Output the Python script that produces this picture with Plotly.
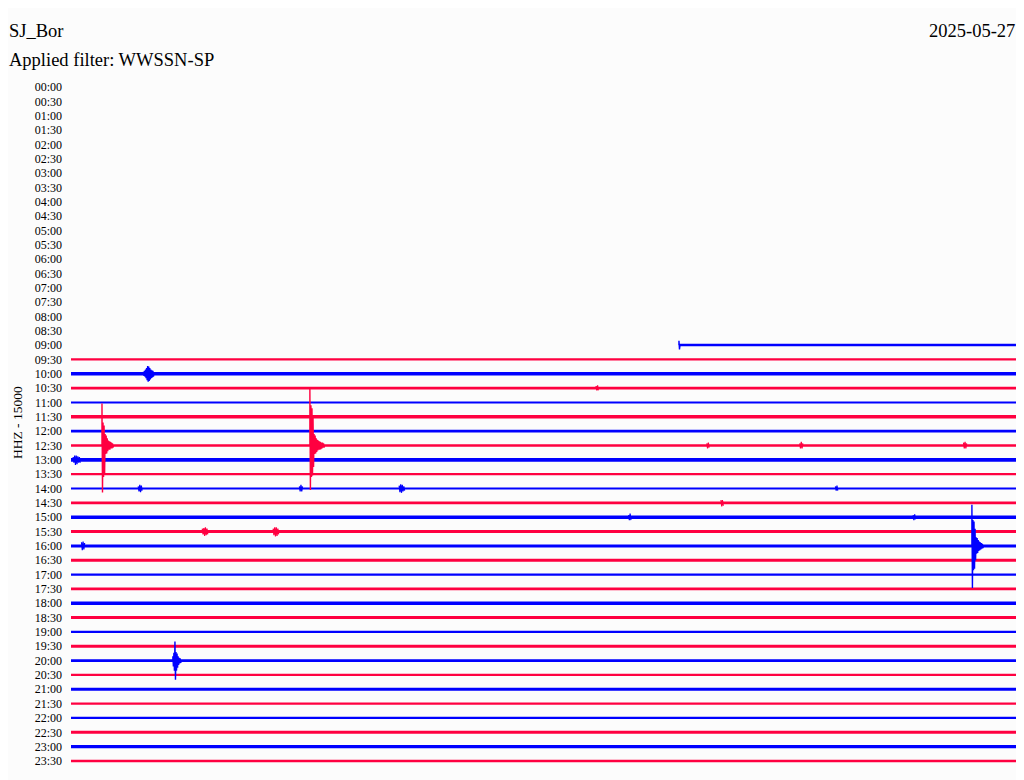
import plotly.graph_objects as go

# ---------------- data ----------------
ROW_LABELS = [f"{h:02d}:{m:02d}" for h in range(24) for m in (0, 30)]
STATION = "SJ_Bor"
DATE = "2025-05-27"
FILTER = "Applied filter: WWSSN-SP"
CHANNEL = "HHZ - 15000"

# seconds within each 30-min line where recorded data begins (rows with data only)
TRACE_ROWS = list(range(18, 48))
TRACE_START = [1158] + [0] * 29
TRACE_END = [1800] * 30

# events: row, start second, sample step (s), signed amplitudes (in line-spacing units, up positive)
EV_ROWS = [25, 25, 32, 40, 20, 18]
EV_START = [59, 455, 1716, 194, 138, 1158]
EV_STEP = [1, 1, 1, 1, 1, 1]
EV_VALUES = [
    [2.93, -3.28, 1.6, -2.2, 1.4, -2.0, 0.8, -0.6, 0.7, -0.55, 0.5, -0.4, 0.35, -0.3,
     0.3, -0.3, 0.25, -0.2, 0.2, -0.2, 0.15, -0.15],
    [3.97, -3.1, 2.8, -2.2, 2.6, -2.1, 2.0, -1.5, 0.8, -0.6, 0.7, -0.55, 0.5, -0.45,
     0.4, -0.35, 0.35, -0.3, 0.3, -0.3, 0.25, -0.25, 0.2, -0.2, 0.2, -0.15, 0.15, -0.15],
    [2.86, -2.93, 1.8, -1.7, 1.7, -1.6, 1.2, -1.0, 0.6, -0.55, 0.55, -0.5, 0.4, -0.35,
     0.3, -0.3, 0.25, -0.25, 0.2, -0.2, 0.15, -0.15],
    [0.3, -0.4, 0.55, -0.7, 1.33, -1.33, 0.6, -0.7, 0.5, -0.5, 0.3, -0.3, 0.2, -0.2,
     0.15, -0.15],
    [0.15, -0.15, 0.2, -0.2, 0.3, -0.3, 0.4, -0.45, 0.55, -0.55, 0.5, -0.5, 0.4, -0.4,
     0.3, -0.3, 0.25, -0.25, 0.2, -0.2],
    [0.3, -0.3],
]

# small noise bursts: row, start second, signed amplitudes
BURST_ROWS = [26, 26, 28, 28, 28, 28, 31, 31, 30, 30, 32, 25, 25, 25, 29, 21]
BURST_START = [4, 60, 128, 435, 625, 1456, 250, 385, 1062, 1604, 20, 1211, 1388, 1700, 1238, 1000]
BURST_VALUES = [
    [0.2, -0.2, 0.3, -0.35, 0.3, -0.3, 0.25, -0.2, 0.2, -0.2],
    [0.15, -0.2, 0.2, -0.15],
    [0.15, -0.2, 0.25, -0.25, 0.2, -0.15],
    [0.15, -0.2, 0.25, -0.2, 0.15],
    [0.2, -0.25, 0.3, -0.3, 0.25, -0.2, 0.15, -0.15],
    [0.15, -0.15, 0.2, -0.15],
    [0.2, -0.2, 0.25, -0.3, 0.3, -0.25, 0.2, -0.2],
    [0.2, -0.25, 0.3, -0.35, 0.3, -0.3, 0.2, -0.2],
    [0.15, -0.2, 0.25, -0.2],
    [0.15, -0.2, 0.2, -0.15],
    [0.25, -0.3, 0.3, -0.25, 0.2],
    [0.15, -0.2, 0.2, -0.15],
    [0.15, -0.2, 0.25, -0.2, 0.15],
    [0.2, -0.2, 0.25, -0.2, 0.15],
    [0.2, -0.25, 0.2, -0.2],
    [0.15, -0.15, 0.2, -0.15],
]

# ---------------- styles ----------------
BLUE = "#0000ff"
RED = "#ff0040"
BG = "#fcfcfc"
ROW_WIDTH = {18: 2.5, 19: 2.2, 20: 3.4, 21: 2.6, 22: 2.0, 23: 3.4, 24: 2.6, 25: 2.6,
             26: 3.6, 27: 2.2, 28: 2.2, 29: 2.6, 30: 3.4, 31: 3.0, 32: 3.0, 33: 3.0,
             34: 2.2, 35: 2.6, 36: 3.4, 37: 3.0, 38: 2.2, 39: 3.0, 40: 2.6, 41: 2.2,
             42: 3.0, 43: 2.2, 44: 2.2, 45: 3.0, 46: 3.4, 47: 2.6}

# the page places the figure 8 px from the window's top-left corner
OFF = 8


def row_color(r):
    return BLUE if r % 2 == 0 else RED


fig = go.Figure()

for r, s, e in zip(TRACE_ROWS, TRACE_START, TRACE_END):
    fig.add_trace(go.Scatter(x=[s, e], y=[r, r], mode="lines",
                             line=dict(color=row_color(r), width=ROW_WIDTH[r]),
                             hoverinfo="skip", showlegend=False))

for r, s, vals in zip(BURST_ROWS, BURST_START, BURST_VALUES):
    xs, ys = [], []
    for i, v in enumerate(vals):
        xs.append(s + i * 1.5)
        ys.append(r - v)
    fig.add_trace(go.Scatter(x=xs, y=ys, mode="lines",
                             line=dict(color=row_color(r), width=1.2),
                             hoverinfo="skip", showlegend=False))

for r, s, st, vals in zip(EV_ROWS, EV_START, EV_STEP, EV_VALUES):
    xs, ys = [s], [r]
    for i, v in enumerate(vals):
        xs.append(s + i * st)
        ys.append(r - v)
    xs.append(s + len(vals) * st)
    ys.append(r)
    fig.add_trace(go.Scatter(x=xs, y=ys, mode="lines",
                             line=dict(color=row_color(r), width=1.4),
                             hoverinfo="skip", showlegend=False))

PX_PER_ROW = 14.34
TOP_PX, BOT_PX = 73, 775       # plot area in window pixels
LEFT_PX, RIGHT_PX = 71, 1016
y_top = (TOP_PX - 87) / PX_PER_ROW
y_bot = (BOT_PX - 87) / PX_PER_ROW

FIG_W, FIG_H = 1024 - OFF, 780 - OFF

fig.update_layout(
    width=FIG_W, height=FIG_H,
    margin=dict(l=LEFT_PX - OFF, r=FIG_W - (RIGHT_PX - OFF), t=TOP_PX - OFF,
                b=FIG_H - (BOT_PX - OFF)),
    paper_bgcolor=BG, plot_bgcolor=BG,
    xaxis=dict(range=[0, 1800], visible=False, fixedrange=True),
    yaxis=dict(range=[y_bot, y_top], tickmode="array",
               tickvals=list(range(48)), ticktext=ROW_LABELS,
               showgrid=False, zeroline=False, showline=False,
               ticks="", ticklabelstandoff=8,
               tickfont=dict(family="Liberation Serif", size=12, color="#000000"),
               fixedrange=True),
    font=dict(family="Liberation Serif", color="#000000"),
)

W = float(RIGHT_PX - LEFT_PX)
H = float(BOT_PX - TOP_PX)


def px_x(x):
    return (x - LEFT_PX) / W


def px_y(y):
    return (BOT_PX - y) / H


TITLE_FONT = dict(family="Liberation Serif", size=18.5, color="#000")
fig.add_annotation(x=px_x(7), y=px_y(31), xref="paper", yref="paper", text=STATION,
                   showarrow=False, xanchor="left", yanchor="middle", font=TITLE_FONT)
fig.add_annotation(x=px_x(7), y=px_y(60), xref="paper", yref="paper", text=FILTER,
                   showarrow=False, xanchor="left", yanchor="middle", font=TITLE_FONT)
fig.add_annotation(x=px_x(1017), y=px_y(31), xref="paper", yref="paper", text=DATE,
                   showarrow=False, xanchor="right", yanchor="middle", font=TITLE_FONT)
fig.add_annotation(x=px_x(17), y=px_y(423), xref="paper", yref="paper", text=CHANNEL,
                   showarrow=False, textangle=-90, xanchor="center", yanchor="middle",
                   font=dict(family="Liberation Serif", size=13.5, color="#000"))

fig.write_html("out.html")
